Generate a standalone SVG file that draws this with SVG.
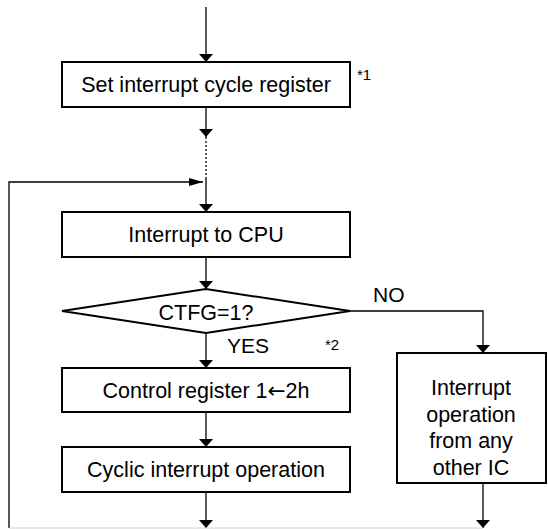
<svg xmlns="http://www.w3.org/2000/svg" width="548" height="529" viewBox="0 0 548 529">
<defs>
<marker id="ah" markerWidth="8" markerHeight="14" refX="8" refY="7" orient="auto" markerUnits="userSpaceOnUse" viewBox="0 0 8 14">
<path d="M0,0 L8,7 L0,14 Z" fill="#000"/>
</marker>
<marker id="ahh" markerWidth="14" markerHeight="8" refX="14" refY="4" orient="0" markerUnits="userSpaceOnUse" viewBox="0 0 14 8">
<path d="M0,0 L14,4 L0,8 Z" fill="#000"/>
</marker>
</defs>
<style>
.box{fill:#fff;stroke:#000;stroke-width:2}
.ln{fill:none;stroke:#000;stroke-width:1.3}
.t{font-family:"Liberation Sans",Arial,sans-serif;font-size:21.5px;fill:#000;text-anchor:middle}
.l{font-family:"Liberation Sans",Arial,sans-serif;font-size:21px;fill:#000}
.s{font-family:"Liberation Sans",Arial,sans-serif;font-size:15px;fill:#000}
.arw{font-family:"DejaVu Sans",sans-serif}
</style>
<g id="connectors">
<line class="ln" x1="206" y1="7" x2="206" y2="62" marker-end="url(#ah)"/>
<line class="ln" x1="206" y1="107" x2="206" y2="137" marker-end="url(#ah)"/>
<line class="ln" x1="206" y1="137" x2="206" y2="178" stroke-dasharray="2,2"/>
<line class="ln" x1="206" y1="178" x2="206" y2="212" marker-end="url(#ah)"/>
<polyline class="ln" points="9,528 9,182 203,182" marker-end="url(#ahh)"/>
<line class="ln" x1="206" y1="257" x2="206" y2="289" marker-end="url(#ah)"/>
<polyline class="ln" points="350,311 483,311 483,353" marker-end="url(#ah)"/>
<line class="ln" x1="206" y1="333" x2="206" y2="368" marker-end="url(#ah)"/>
<line class="ln" x1="206" y1="412" x2="206" y2="447" marker-end="url(#ah)"/>
<line class="ln" x1="206" y1="492" x2="206" y2="528" marker-end="url(#ah)"/>
<line class="ln" x1="483" y1="483" x2="483" y2="528" marker-end="url(#ah)"/>
<line x1="9" y1="528" x2="483" y2="528" stroke="#d0d0d0" stroke-width="1"/>
</g>
<g id="set-register">
<rect class="box" x="62" y="62" width="288" height="45"/>
<text class="t" x="206" y="92">Set interrupt cycle register</text>
<text class="s" x="357" y="80">*1</text>
</g>
<g id="interrupt-cpu">
<rect class="box" x="62" y="212" width="288" height="45"/>
<text class="t" x="206" y="241.5">Interrupt to CPU</text>
</g>
<g id="decision">
<polygon class="box" points="62,311 206,289 350,311 206,333"/>
<text class="t" x="206" y="320">CTFG=1?</text>
<text class="l" x="373" y="302">NO</text>
<text class="l" x="227" y="353">YES</text>
<text class="s" x="325" y="350">*2</text>
</g>
<g id="control-register">
<rect class="box" x="62" y="368" width="288" height="44"/>
<text class="t" x="206" y="397.5">Control register 1<tspan class="arw">←</tspan>2h</text>
</g>
<g id="cyclic">
<rect class="box" x="62" y="447" width="288" height="45"/>
<text class="t" x="206" y="477">Cyclic interrupt operation</text>
</g>
<g id="other-ic">
<rect class="box" x="397" y="353" width="149" height="130"/>
<text class="t" x="471" y="395">Interrupt</text>
<text class="t" x="471" y="421.5">operation</text>
<text class="t" x="471" y="448">from any</text>
<text class="t" x="471" y="474.5">other IC</text>
</g>
</svg>
